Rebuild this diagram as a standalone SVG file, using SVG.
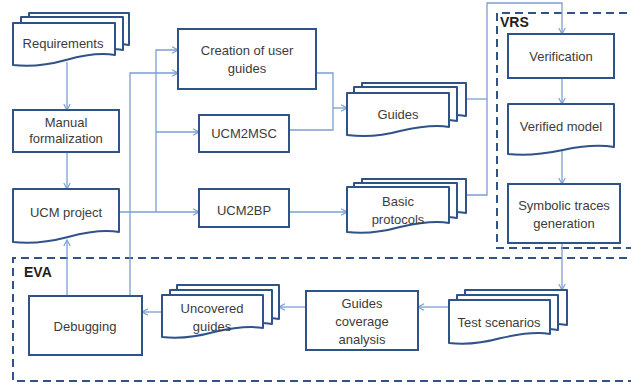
<svg xmlns="http://www.w3.org/2000/svg" width="631" height="383" viewBox="0 0 631 383">
  <defs>
    <style>
      .box { fill: #ffffff; stroke: #2F5388; stroke-width: 2; }
      .doc { fill: #ffffff; stroke: #2F5388; stroke-width: 2; stroke-linejoin: round; }
      .frame { fill: none; stroke: #2F5388; stroke-width: 2; stroke-dasharray: 8 5; }
      .link { fill: none; stroke: #7A9FD3; stroke-width: 1.3; }
      .arrow { marker-end: url(#chev); }
      text { font-family: "Liberation Sans", Arial, sans-serif; font-size: 13px; fill: #3C3C3C; text-anchor: middle; }
      text.group { font-weight: bold; font-size: 14px; fill: #1E1E1E; text-anchor: start; }
    </style>
    <marker id="chev" viewBox="0 0 8 8" refX="7" refY="4" markerWidth="8" markerHeight="8" markerUnits="userSpaceOnUse" orient="auto">
      <path d="M1,0.8 L7,4 L1,7.2" fill="none" stroke="#7A9FD3" stroke-width="1.2"/>
    </marker>
  </defs>

  <rect width="631" height="383" fill="#ffffff"/>

  <!-- dashed group frames, open on the right -->
  <g id="vrs">
    <path class="frame" d="M640,13 H497 V248 H640"/>
    <text class="group" x="500" y="27">VRS</text>
  </g>
  <g id="eva">
    <path class="frame" d="M640,258 H13 V381 H640"/>
    <text class="group" x="24" y="277">EVA</text>
  </g>

  <!-- connectors -->
  <g id="connectors">
    <path class="link arrow" d="M67,62 V110"/>
    <path class="link arrow" d="M67,152 V189"/>
    <path class="link arrow" d="M119,212 H199"/>
    <path class="link arrow" d="M156,212 V50 H178"/>
    <path class="link arrow" d="M156,132 H199"/>
    <path class="link arrow" d="M130,296 V73 H178"/>
    <path class="link" d="M316,73 H333 V130 H289"/>
    <path class="link arrow" d="M333,108 H347"/>
    <path class="link arrow" d="M289,212 H347"/>
    <path class="link" d="M466,99 H487"/>
    <path class="link arrow" d="M466,195 H487 V3 H562 V34"/>
    <path class="link arrow" d="M562,78 V104"/>
    <path class="link arrow" d="M562,151 V184"/>
    <path class="link arrow" d="M562,243 V290"/>
    <path class="link arrow" d="M449,307 H418"/>
    <path class="link arrow" d="M306,307 H279"/>
    <path class="link arrow" d="M162,312 H142"/>
    <path class="link arrow" d="M67,296 V240"/>
  </g>

  <!-- nodes -->
  <g id="requirements">
    <path class="doc" d="M29,13 H129 V45 C119,43 99,44 82,49 C64,54 45,56 29,55 Z"/>
    <path class="doc" d="M21,17 H123 V50 C113,48 93,49 75,54 C57,59 38,61 21,60 Z"/>
    <path class="doc" d="M13,23 H115 V55 C103,53 84,55 66,60 C48,65 30,67 13,65 Z"/>
    <text x="63" y="48">Requirements</text>
  </g>

  <g id="manual-formalization">
    <rect class="box" x="13" y="110" width="106" height="42"/>
    <text x="66" y="126.5">Manual</text>
    <text x="66" y="142.5">formalization</text>
  </g>

  <g id="ucm-project">
    <path class="doc" d="M13,189 H119 V232 C107,230 87,232 68,237 C49,242 30,244 13,242 Z"/>
    <text x="66" y="216.5">UCM project</text>
  </g>

  <g id="creation-of-user-guides">
    <rect class="box" x="178" y="29" width="138" height="60"/>
    <text x="247" y="54.5">Creation of user</text>
    <text x="247" y="72.5">guides</text>
  </g>

  <g id="ucm2msc">
    <rect class="box" x="199" y="115" width="90" height="37"/>
    <text x="244" y="137.5">UCM2MSC</text>
  </g>

  <g id="ucm2bp">
    <rect class="box" x="199" y="189" width="90" height="38"/>
    <text x="244" y="214.5">UCM2BP</text>
  </g>

  <g id="guides">
    <path class="doc" d="M362,83 H466 V116 C455,114 435,115 417,120 C399,125 379,127 362,125 Z"/>
    <path class="doc" d="M354,87 H457 V121 C446,119 426,120 408,125 C390,130 371,132 354,130 Z"/>
    <path class="doc" d="M347,93 H449 V127 C437,125 418,127 400,131 C382,136 364,137 347,135 Z"/>
    <text x="398" y="118.5">Guides</text>
  </g>

  <g id="basic-protocols">
    <path class="doc" d="M362,179 H466 V213 C455,211 435,212 417,217 C399,222 379,224 362,222 Z"/>
    <path class="doc" d="M354,183 H457 V218 C446,216 426,217 408,222 C390,227 371,229 354,227 Z"/>
    <path class="doc" d="M347,187 H449 V223 C437,221 418,223 400,227 C382,232 364,234 347,232 Z"/>
    <text x="398" y="205.5">Basic</text>
    <text x="398" y="223.5">protocols</text>
  </g>

  <g id="verification">
    <rect class="box" x="508" y="34" width="106" height="44"/>
    <text x="561" y="60.5">Verification</text>
  </g>

  <g id="verified-model">
    <path class="doc" d="M508,104 H614 V147 C602,145 582,146 563,150 C544,154 525,156 508,154 Z"/>
    <text x="561" y="130.5">Verified model</text>
  </g>

  <g id="symbolic-traces-generation">
    <rect class="box" x="508" y="184" width="112" height="59"/>
    <text x="564" y="209.5">Symbolic traces</text>
    <text x="564" y="227.5">generation</text>
  </g>

  <g id="test-scenarios">
    <path class="doc" d="M465,290 H567 V325 C556,323 536,324 518,329 C500,334 481,335 465,333 Z"/>
    <path class="doc" d="M457,295 H558 V330 C547,328 527,329 509,334 C491,339 473,340 457,338 Z"/>
    <path class="doc" d="M449,300 H550 V334 C538,332 519,334 501,338 C483,343 466,345 449,343 Z"/>
    <text x="499" y="326.5">Test scenarios</text>
  </g>

  <g id="guides-coverage-analysis">
    <rect class="box" x="306" y="291" width="112" height="59"/>
    <text x="362" y="307.5">Guides</text>
    <text x="362" y="325.5">coverage</text>
    <text x="362" y="343.5">analysis</text>
  </g>

  <g id="uncovered-guides">
    <path class="doc" d="M177,285 H279 V319 C268,317 248,318 230,323 C212,328 193,329 177,327 Z"/>
    <path class="doc" d="M170,290 H272 V324 C261,322 241,323 223,328 C205,333 186,334 170,332 Z"/>
    <path class="doc" d="M162,295 H263 V328 C251,326 232,328 214,332 C196,337 179,339 162,337 Z"/>
    <text x="212" y="312.5">Uncovered</text>
    <text x="212" y="330.5">guides</text>
  </g>

  <g id="debugging">
    <rect class="box" x="29" y="296" width="113" height="59"/>
    <text x="85" y="330.5">Debugging</text>
  </g>
</svg>
